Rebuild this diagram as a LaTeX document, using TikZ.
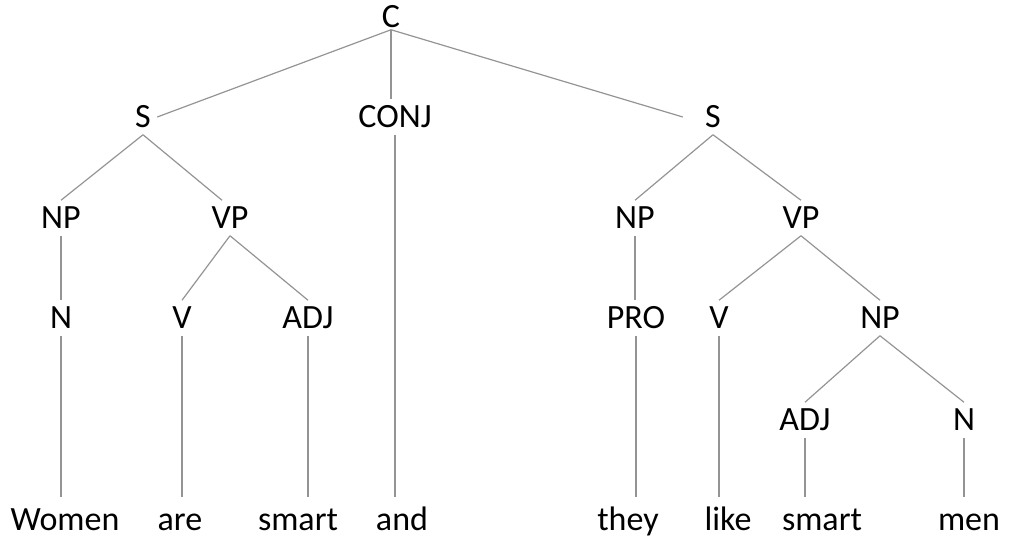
\documentclass[tikz,border=0pt]{standalone}
\usepackage{fontspec}
\setmainfont{Carlito}
\begin{document}
\begin{tikzpicture}[x=0.5pt,y=-0.5pt,
  lab/.style={font=\fontsize{17pt}{20pt}\selectfont, inner xsep=3pt, inner ysep=3.2pt, text height=10.95pt, text depth=0pt},
  leaf/.style={lab, inner ysep=5.7pt},
  edge/.style={draw=black!42, line width=0.6pt}]
\useasboundingbox (0,0) rectangle (1029,540);
% nodes
\node[lab, inner ysep=0.7pt] (C) at (391,17) {C};
\node[lab] (Sl) at (143,117) {S};
\node[lab] (CONJ) at (395,117) {CONJ};
\node[lab] (Sr) at (713,117) {S};
\node[lab] (NPl) at (61,218) {NP};
\node[lab] (VPl) at (230,218) {VP};
\node[lab] (NPr) at (635,218) {NP};
\node[lab] (VPr) at (801,218) {VP};
\node[lab] (N1) at (61,318) {N};
\node[lab] (V1) at (182,318) {V};
\node[lab] (ADJ1) at (308,318) {ADJ};
\node[lab] (PRO) at (636,318) {PRO};
\node[lab] (V2) at (719,318) {V};
\node[lab] (NP2) at (880,318) {NP};
\node[lab] (ADJ2) at (805,420) {ADJ};
\node[lab] (N2) at (964,420) {N};
\node[leaf] (w1) at (65,520) {Women};
\node[leaf] (w2) at (180,520) {are};
\node[leaf] (w3) at (298,520) {smart};
\node[leaf] (w4) at (402,520) {and};
\node[leaf] (w5) at (628,520) {they};
\node[leaf] (w6) at (728,520) {like};
\node[leaf] (w7) at (822,520) {smart};
\node[leaf] (w8) at (969,520) {men};
% edges
\draw[edge] (C.south) -- (Sl.east);
\draw[edge] (C.south) -- (C.south |- CONJ.north);
\draw[edge] (C.south) -- ([xshift=-8pt]Sr.west);
\draw[edge] (Sl.south) -- (NPl.north);
\draw[edge] (Sl.south) -- ([xshift=-4pt]VPl.north);
\draw[edge] (Sr.south) -- (NPr.north);
\draw[edge] (Sr.south) -- (VPr.north);
\draw[edge] (NPl.south) -- (NPl.south |- N1.north);
\draw[edge] (VPl.south) -- (V1.north);
\draw[edge] (VPl.south) -- (ADJ1.north);
\draw[edge] (NPr.south) -- (NPr.south |- PRO.north);
\draw[edge] (VPr.south) -- (V2.north);
\draw[edge] (VPr.south) -- (NP2.north);
\draw[edge] (NP2.south) -- (ADJ2.north);
\draw[edge] (NP2.south) -- (N2.north);
\draw[edge] (N1.south) -- (N1.south |- w1.north);
\draw[edge] (V1.south) -- (V1.south |- w2.north);
\draw[edge] (ADJ1.south) -- (ADJ1.south |- w3.north);
\draw[edge] (CONJ.south) -- (CONJ.south |- w4.north);
\draw[edge] (PRO.south) -- (PRO.south |- w5.north);
\draw[edge] (V2.south) -- (V2.south |- w6.north);
\draw[edge] (ADJ2.south) -- (ADJ2.south |- w7.north);
\draw[edge] (N2.south) -- (N2.south |- w8.north);
\end{tikzpicture}
\end{document}
